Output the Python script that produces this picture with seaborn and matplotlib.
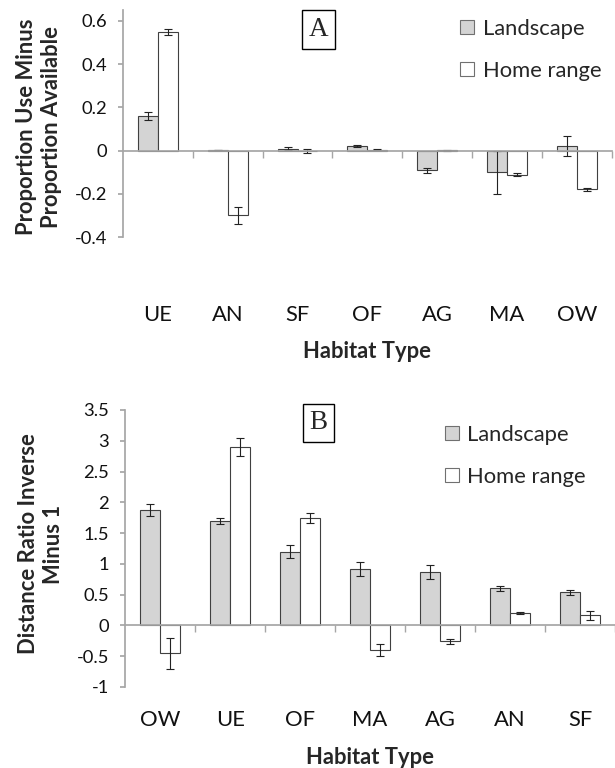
import numpy as np
import pandas as pd
import matplotlib
matplotlib.use("Agg")
import matplotlib.pyplot as plt
import seaborn as sns

# Panel A: proportion use minus proportion available
cats_a = ['UE', 'AN', 'SF', 'OF', 'AG', 'MA', 'OW']
land_a = [0.16, 0.003, 0.008, 0.02, -0.092, -0.10, 0.02]
land_a_err = [0.02, 0.0, 0.006, 0.004, 0.01, 0.10, 0.047]
home_a = [0.548, -0.30, -0.003, 0.004, 0.002, -0.111, -0.18]
home_a_err = [0.012, 0.039, 0.01, 0.002, 0.002, 0.006, 0.008]
yticks_a = [-0.4, -0.2, 0, 0.2, 0.4, 0.6]
ylabels_a = ['-0.4', '-0.2', '0', '0.2', '0.4', '0.6']

# Panel B: distance ratio inverse minus 1
cats_b = ['OW', 'UE', 'OF', 'MA', 'AG', 'AN', 'SF']
land_b = [1.87, 1.70, 1.20, 0.91, 0.87, 0.60, 0.54]
land_b_err = [0.10, 0.045, 0.10, 0.115, 0.11, 0.045, 0.04]
home_b = [-0.45, 2.90, 1.745, -0.40, -0.26, 0.20, 0.165]
home_b_err = [0.25, 0.145, 0.08, 0.10, 0.045, 0.02, 0.075]
yticks_b = [-1, -0.5, 0, 0.5, 1, 1.5, 2, 2.5, 3, 3.5]
ylabels_b = ['-1', '-0.5', '0', '0.5', '1', '1.5', '2', '2.5', '3', '3.5']

series = ['Landscape', 'Home range']

sns.set_theme(style='white')
plt.rcParams['font.family'] = ['Lato', 'DejaVu Sans']
plt.rcParams['axes.unicode_minus'] = False

GRAY = '#a6a6a6'
EDGE = '#404040'
FS = 15.8      # category labels, legend, axis titles
FS_Y = 13.2    # numeric y tick labels


def draw_panel(ax, cats, land, land_err, home, home_err, yticks, ylabels,
               ylim, ylabel, letter, letter_xy, leg_xy, xpad):
    df = pd.DataFrame({
        'cat': cats * 2,
        'val': land + home,
        'series': [series[0]] * len(cats) + [series[1]] * len(cats),
    })
    sns.barplot(data=df, x='cat', y='val', hue='series', order=cats,
                hue_order=series, palette=['#d4d4d4', 'white'],
                edgecolor=EDGE, linewidth=0.8, width=0.572, errorbar=None,
                ax=ax)
    bars = list(ax.containers)
    errs = [land_err, home_err]
    vals = [land, home]
    for k, cont in enumerate(bars):
        xs = [p.get_x() + p.get_width() / 2 for p in cont.patches]
        ax.errorbar(xs, vals[k], yerr=errs[k], fmt='none', ecolor='#222222',
                    elinewidth=0.8, capsize=3, capthick=0.8)

    ax.set_xlim(-0.5, len(cats) - 0.5)
    ax.set_ylim(*ylim)
    ax.set_yticks(yticks)
    ax.set_yticklabels(ylabels)
    for s in ['top', 'right']:
        ax.spines[s].set_visible(False)
    ax.spines['left'].set_color(GRAY)
    ax.spines['bottom'].set_color(GRAY)
    ax.spines['bottom'].set_position(('data', 0))
    ax.set_xticks(np.arange(0.5, len(cats), 1.0), minor=True)
    ax.tick_params(axis='x', which='minor', length=5, color=GRAY,
                   direction='out', bottom=True)
    ax.tick_params(axis='x', which='major', length=0, pad=xpad,
                   labelsize=FS, labelcolor='#111111')
    ax.tick_params(axis='y', length=3.6, color=GRAY, direction='out',
                   left=True, pad=8, labelsize=FS_Y, labelcolor='#111111')

    ax.set_xlabel('Habitat Type', fontsize=FS, fontweight='bold',
                  labelpad=12)
    ax.set_ylabel(ylabel, fontsize=FS, fontweight='bold', linespacing=1.25)

    ax.text(letter_xy[0], letter_xy[1], letter, transform=ax.transAxes,
            ha='center', va='center', fontsize=19.5,
            family='Liberation Serif',
            bbox=dict(boxstyle='square,pad=0.25', fc='white', ec='black',
                      lw=1.0))

    leg = ax.legend(handles=bars, labels=series, loc='upper left',
                    bbox_to_anchor=leg_xy, frameon=False, fontsize=FS,
                    handlelength=0.62, handleheight=0.62, handletextpad=0.4,
                    labelspacing=1.0, borderpad=0, borderaxespad=0)
    for h in leg.legend_handles:
        h.set_edgecolor('#707070')


fig = plt.figure(figsize=(6.15, 7.68), dpi=100)
ax_a = fig.add_axes([0.2, 0.6914, 0.7945, 0.2956])
ax_b = fig.add_axes([0.2033, 0.1055, 0.797, 0.3607])

draw_panel(ax_a, cats_a, land_a, land_a_err, home_a, home_a_err, yticks_a,
           ylabels_a, (-0.4, 0.65), 'Proportion Use Minus\nProportion Available',
           'A', (0.40, 0.914), (0.69, 0.96), 111)
draw_panel(ax_b, cats_b, land_b, land_b_err, home_b, home_b_err, yticks_b,
           ylabels_b, (-1, 3.5), 'Distance Ratio Inverse\nMinus 1',
           'B', (0.395, 0.953), (0.653, 0.947), 61)

ax_a.yaxis.set_label_coords(-0.172, 0.485)
ax_a.yaxis.label.set_va('center')
ax_b.yaxis.set_label_coords(-0.172, 0.516)
ax_b.yaxis.label.set_va('center')

fig.savefig('out.png', dpi=100)
